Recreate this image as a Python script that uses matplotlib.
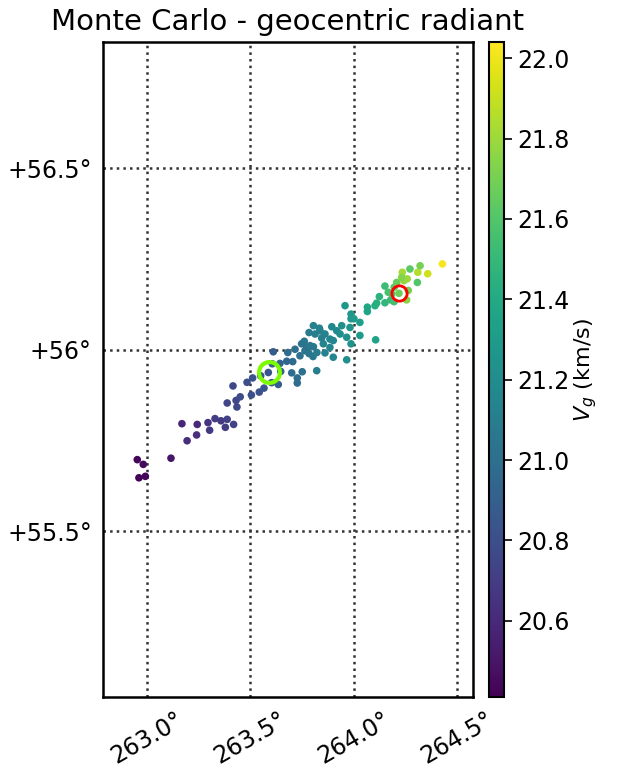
import matplotlib
matplotlib.use("Agg")
import matplotlib.pyplot as plt
import numpy as np
from matplotlib.ticker import FuncFormatter, FixedLocator

ra = [262.953, 262.982, 262.961, 262.992, 263.116, 263.169, 263.194, 263.243, 263.240,
      263.295, 263.303, 263.329, 263.358, 263.388, 263.379, 263.419, 263.388, 263.435,
      263.431, 263.451, 263.416, 263.484, 263.505, 263.543, 263.566, 263.603, 263.635,
      263.511, 263.550, 263.587, 263.606, 263.643, 263.647, 263.676, 263.705, 263.700,
      263.727, 263.751, 263.727, 263.611, 263.681, 263.716, 263.748, 263.761, 263.773,
      263.805, 263.764, 263.784, 263.803, 263.822, 263.821, 263.784, 263.813, 263.805,
      263.837, 263.861, 263.845, 263.885, 263.894, 263.918, 263.934, 263.942, 263.966,
      263.861, 263.901, 263.966, 263.987, 263.958, 263.987, 263.987, 264.001, 264.030,
      263.982, 264.030, 264.106, 264.066, 264.066, 264.103, 264.111, 264.124, 264.151,
      264.179, 264.195, 264.151, 264.167, 264.184, 264.196, 264.208, 264.235, 264.243,
      264.259, 264.272, 264.264, 264.256, 264.308, 264.310, 264.321, 264.358, 264.429,
      264.232, 264.219, 263.834, 263.901, 263.885, 263.853, 263.740, 263.789]
dec = [55.697, 55.684, 55.647, 55.651, 55.701, 55.796, 55.749, 55.794, 55.765,
       55.799, 55.778, 55.810, 55.804, 55.808, 55.786, 55.794, 55.853, 55.842,
       55.860, 55.870, 55.900, 55.910, 55.875, 55.883, 55.894, 55.909, 55.904,
       55.922, 55.928, 55.937, 55.961, 55.962, 55.940, 55.968, 55.967, 55.936,
       55.922, 55.939, 55.908, 55.994, 55.992, 56.001, 56.016, 56.023, 56.006,
       56.008, 55.997, 55.989, 55.981, 55.992, 55.942, 56.047, 56.043, 56.066,
       56.052, 56.043, 56.032, 56.029, 56.063, 56.052, 56.043, 56.066, 56.034,
       55.991, 55.979, 55.972, 56.016, 56.121, 56.098, 56.085, 56.085, 56.075,
       56.061, 56.039, 56.027, 56.117, 56.105, 56.121, 56.128, 56.146, 56.129,
       56.137, 56.132, 56.175, 56.158, 56.153, 56.172, 56.185, 56.213, 56.190,
       56.195, 56.222, 56.163, 56.137, 56.185, 56.213, 56.231, 56.209, 56.236,
       56.199, 56.155, 56.059, 56.025, 56.006, 56.016, 55.983, 56.011]
vg = [20.43, 20.45, 20.42, 20.44, 20.50, 20.58, 20.62, 20.60, 20.63,
      20.66, 20.68, 20.70, 20.69, 20.72, 20.70, 20.73, 20.74, 20.77,
      20.76, 20.78, 20.76, 20.80, 20.81, 20.82, 20.84, 20.86, 20.88,
      20.83, 20.85, 20.84, 20.90, 20.92, 20.93, 20.95, 20.97, 20.98,
      20.99, 21.00, 20.98, 20.88, 20.98, 21.00, 21.03, 21.05, 21.04,
      21.07, 21.03, 21.05, 21.06, 21.08, 21.10, 21.08, 21.10, 21.12,
      21.12, 21.14, 21.11, 21.15, 21.17, 21.18, 21.20, 21.22, 21.23,
      21.13, 21.16, 21.22, 21.25, 21.27, 21.28, 21.27, 21.30, 21.32,
      21.26, 21.30, 21.35, 21.38, 21.36, 21.42, 21.44, 21.46, 21.48,
      21.50, 21.55, 21.52, 21.56, 21.58, 21.62, 21.66, 21.82, 21.78,
      21.80, 21.62, 21.70, 21.75, 21.60, 21.85, 21.70, 21.92, 22.02,
      21.74, 21.68, 21.12, 21.16, 21.15, 21.13, 21.02, 21.06]

ref_ra, ref_dec = 263.592, 55.9386     # green ring
best_ra, best_dec = 264.219, 56.155    # red ring

xticks = [263.0, 263.5, 264.0, 264.5]
yticks = [55.5, 56.0, 56.5]
cticks = [20.6, 20.8, 21.0, 21.2, 21.4, 21.6, 21.8, 22.0]
vmin, vmax = 20.41, 22.04

fig = plt.figure(figsize=(6.24, 7.72), dpi=100)
ax = fig.add_axes([0.165, 0.097, 0.593, 0.8485])
cax = fig.add_axes([0.784, 0.097, 0.024, 0.8485])

sc = ax.scatter(ra, dec, c=vg, cmap='viridis', vmin=vmin, vmax=vmax, s=30,
                edgecolors='none', zorder=3)
ax.plot([ref_ra], [ref_dec], 'o', ms=15, mfc='none', mec='#7cfc00', mew=3, zorder=4)
ax.plot([best_ra], [best_dec], 'o', ms=11, mfc='none', mec='red', mew=2, zorder=5)

ax.set_xlim(262.787, 264.577)
ax.set_ylim(55.043, 56.847)
ax.xaxis.set_major_locator(FixedLocator(xticks))
ax.yaxis.set_major_locator(FixedLocator(yticks))
ax.xaxis.set_major_formatter(FuncFormatter(lambda v, p: f"{v:.1f}°"))
ax.yaxis.set_major_formatter(FuncFormatter(lambda v, p: f"{v:+g}°"))
ax.tick_params(length=0, labelsize=17, pad=8)
for lab in ax.get_xticklabels():
    lab.set_rotation(30)
    lab.set_ha('center')
ax.grid(True, linestyle=':', color='#333333', linewidth=1.8)
for sp in ax.spines.values():
    sp.set_linewidth(1.8)
ax.set_title("Monte Carlo - geocentric radiant", fontsize=21, pad=9)

cb = fig.colorbar(sc, cax=cax, ticks=cticks)
cb.ax.tick_params(labelsize=17, length=6, width=1.2)
cb.ax.yaxis.set_major_formatter(FuncFormatter(lambda v, p: f"{v:.1f}"))
cb.set_label("$V_g$ (km/s)", fontsize=16, labelpad=2)
cb.outline.set_linewidth(1.5)

fig.savefig("out.png", dpi=100)
